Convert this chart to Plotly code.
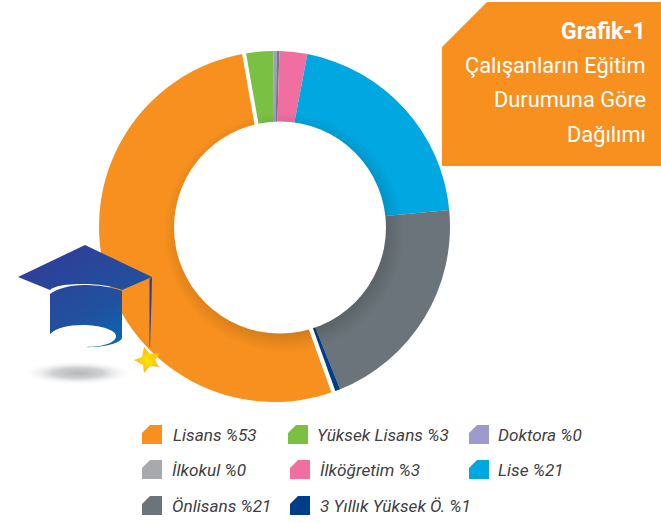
import base64
import math
import plotly.graph_objects as go

W, H = 661, 523

# Data
categories = ["Lisans", "Yüksek Lisans", "Doktora", "İlkokul", "İlköğretim", "Lise", "Önlisans", "3 Yıllık Yüksek Ö."]
slice_values = [52.67, 2.69, 0.28, 0.25, 2.56, 20.5, 20.39, 0.66]
legend_labels = ["Lisans %53", "Yüksek Lisans %3", "Doktora %0", "İlkokul %0", "İlköğretim %3", "Lise %21", "Önlisans %21", "3 Yıllık Yüksek Ö. %1"]
colors = ["#F7901E", "#7AC143", "#9D9BCB", "#A7A9AC", "#F06EA0", "#00A7E1", "#6A747A", "#003F87"]
slice_colors = ["#F7901E", "#7AC143", "#9D9BCB", "#77797E", "#F06EA0", "#00A7E1", "#6A747A", "#003F87"]
title_lines = ["<b>Grafik-1</b>", "Çalışanların Eğitim", "Durumuna Göre", "Dağılımı"]

# Layout
CX, CY, R = 274.5, 226.5, 175.5
HOLE_X, HOLE_Y, HOLE_R = 280, 227.5, 106
ROT = 160.4
legend_pos = [(142, 425, 171), (288, 425, 315), (469, 425, 496),
              (142, 460, 170), (290, 460, 318), (469, 460, 496),
              (142, 496, 170), (290, 496, 318)]
title_y = [31, 65, 100, 135]
title_sizes = [23, 21.8, 21.8, 21.8]


def px(x):
    return x / W


def py(y):
    return 1 - y / H


def poly(pts):
    return "M " + " L ".join(f"{px(x):.5f},{py(y):.5f}" for x, y in pts) + " Z"


fig = go.Figure(go.Pie(
    labels=categories, values=slice_values, sort=False, direction="clockwise",
    rotation=ROT, hole=0.5, textinfo="none", hoverinfo="label+percent",
    marker=dict(colors=slice_colors, line=dict(width=0)),
    domain=dict(x=[px(CX - R), px(CX + R)], y=[py(CY + R), py(CY - R)]),
    showlegend=False,
))

shapes = []
# white gaps on either side of the largest slice, placed from the values
total = sum(slice_values)
for ang, wid in ((ROT, 4.2), (ROT + slice_values[0] / total * 360, 4)):
    a = math.radians(ang)
    s, c = math.sin(a), math.cos(a)
    shapes.append(dict(type="line", xref="paper", yref="paper",
                       x0=px(CX + 95 * s), y0=py(CY - 95 * c),
                       x1=px(CX + (R + 3) * s), y1=py(CY - (R + 3) * c),
                       line=dict(color="white", width=wid), layer="above"))

# title box
shapes.append(dict(type="path", xref="paper", yref="paper", layer="above",
                   path=poly([(442, 47), (487, 2), (661, 2), (661, 166), (442, 166)]),
                   fillcolor="#F7901E", line=dict(width=0)))

annotations = []
for t, y, sz in zip(title_lines, title_y, title_sizes):
    annotations.append(dict(text=t, x=px(648), y=py(y), xref="paper", yref="paper",
                            xanchor="right", yanchor="middle", showarrow=False,
                            font=dict(family="Roboto", size=sz, color="white")))

# legend
for (x, y, tx), lab, col in zip(legend_pos, legend_labels, colors):
    shapes.append(dict(type="path", xref="paper", yref="paper", layer="above",
                       path=poly([(x + 8, y), (x + 20, y), (x + 20, y + 19), (x, y + 19), (x, y + 8)]),
                       fillcolor=col, line=dict(width=0)))
    annotations.append(dict(text=f"<i>{lab}</i>", x=px(tx), y=py(y + 9.5), xref="paper", yref="paper",
                            xanchor="left", yanchor="middle", showarrow=False,
                            font=dict(family="Roboto", size=17.2, color="#414042")))

# off-centre hole with its soft shadow
hole_svg = f"""<svg xmlns="http://www.w3.org/2000/svg" width="300" height="300" viewBox="0 0 300 300">
<defs><radialGradient id="d" gradientUnits="userSpaceOnUse" cx="147" cy="150" r="120">
<stop offset="0.85" stop-color="#000" stop-opacity="0.13"/><stop offset="1" stop-color="#000" stop-opacity="0"/>
</radialGradient></defs>
<circle cx="147" cy="150" r="120" fill="url(#d)"/>
<circle cx="143" cy="145" r="{HOLE_R}" fill="#fff"/>
</svg>"""
hole_img = "data:image/svg+xml;base64," + base64.b64encode(hole_svg.encode()).decode()

# graduation cap illustration
svg = """<svg xmlns="http://www.w3.org/2000/svg" width="180" height="150" viewBox="0 240 180 150">
<defs>
<linearGradient id="g" gradientUnits="userSpaceOnUse" x1="60" y1="250" x2="115" y2="350">
<stop offset="0" stop-color="#2E4098"/><stop offset="0.6" stop-color="#21509F"/><stop offset="1" stop-color="#0B68B0"/>
</linearGradient>
<radialGradient id="s"><stop offset="0" stop-color="#B5B7B8"/><stop offset="0.45" stop-color="#CFD1D2"/><stop offset="1" stop-color="#FFFFFF" stop-opacity="0"/></radialGradient>
<radialGradient id="y"><stop offset="0" stop-color="#FFE600"/><stop offset="1" stop-color="#F7B81E"/></radialGradient>
</defs>
<ellipse cx="78" cy="373" rx="56" ry="12" fill="url(#s)"/>
<path d="M18 277 L85 245 L152 277 L122 290 C112 286 98 284 83 284 C66 284 54 286 50 290 Z" fill="url(#g)"/>
<path d="M50 294 C56 289 70 285 83 285 C98 285 112 287 122 291 L122 338 C120 344 100 348 83 347 C100 347 116 344 116 336 C116 330 100 325 83 325 C68 325 56 328 50 334 Z" fill="url(#g)"/>
<path d="M149.5 279 L152 277 L151.5 300 L150 347 L149.5 347 Z" fill="#2E4098"/>
<path d="M144 347 L150 354 L160 353 L155 360 L159 367 L150 366 L144 373 L143 365 L134 360 L142 357 Z" fill="url(#y)"/>
</svg>"""
img = "data:image/svg+xml;base64," + base64.b64encode(svg.encode()).decode()

fig.update_layout(
    width=W, height=H, margin=dict(l=0, r=0, t=0, b=0, pad=0),
    paper_bgcolor="white", plot_bgcolor="white",
    shapes=shapes, annotations=annotations,
    images=[
        dict(source=hole_img, xref="paper", yref="paper", x=px(HOLE_X - 143), y=py(HOLE_Y - 145),
             sizex=300 / W, sizey=300 / H, xanchor="left", yanchor="top",
             sizing="stretch", layer="above"),
        dict(source=img, xref="paper", yref="paper", x=0, y=py(240),
             sizex=180 / W, sizey=150 / H, xanchor="left", yanchor="top",
             sizing="stretch", layer="above"),
    ],
)
fig.write_html("out.html", config=dict(displayModeBar=False),
               post_script="document.body.style.margin='0';")
